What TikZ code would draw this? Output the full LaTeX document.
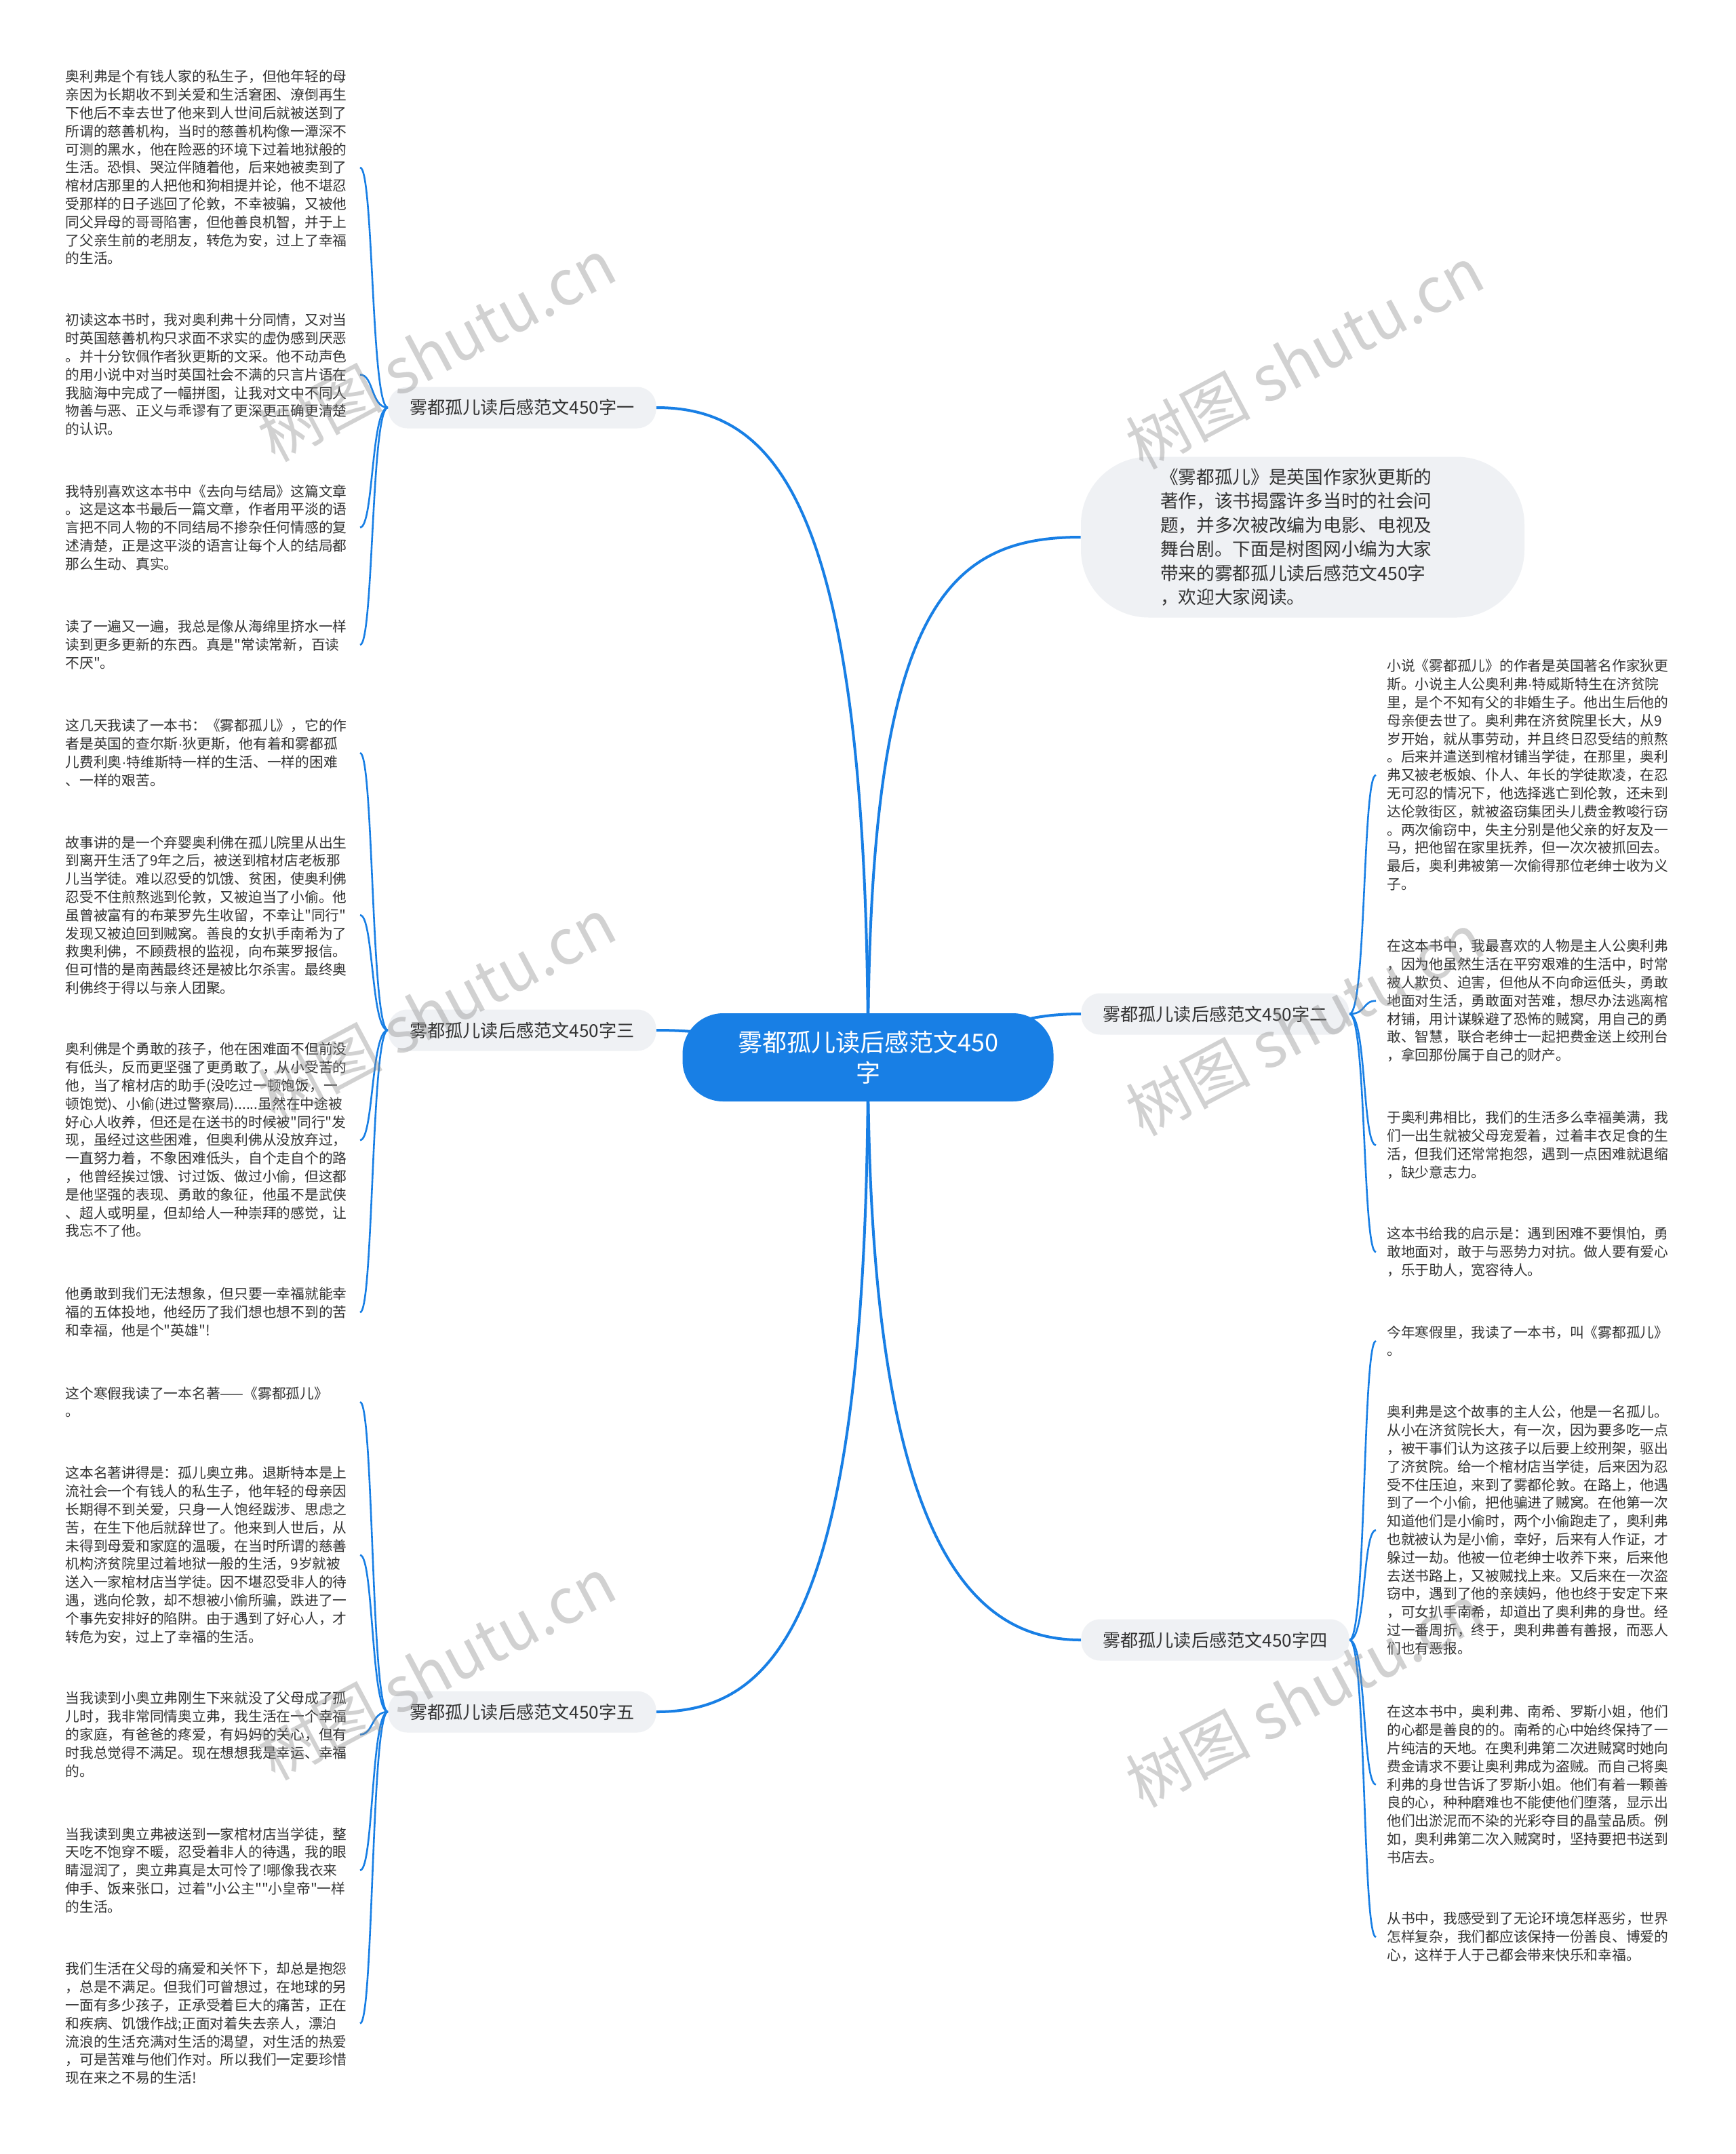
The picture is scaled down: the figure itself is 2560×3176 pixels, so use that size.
\documentclass[tikz,border=0pt]{standalone}
\usepackage{fontspec}
\newfontfamily\cjk{Noto Sans CJK SC}
\newfontfamily\latn{Liberation Sans}
\newcommand{\mdot}{{\latn ·}}
\definecolor{mblue}{RGB}{24,127,229}
\definecolor{bfill}{RGB}{239,241,244}
\definecolor{txt}{RGB}{51,51,51}
\pgfdeclarelayer{back}
\pgfdeclarelayer{bg}
\pgfsetlayers{back,bg,main}
\tikzset{
  leafL/.style={anchor=north east, font=\cjk\fontsize{10.375}{13.4}\selectfont, text width=209pt, align=left, inner xsep=8pt, inner ysep=0pt, text=txt},
  leafR/.style={anchor=north west, font=\cjk\fontsize{10.375}{13.4}\selectfont, text width=209pt, align=left, inner xsep=8pt, inner ysep=0pt, text=txt},
  branch/.style={fill=bfill, rounded corners=14pt, minimum width=197.5pt, minimum height=30.5pt, font=\cjk\fontsize{13.1}{15}\selectfont, text=txt, inner sep=0pt},
  rootnode/.style={fill=mblue, rounded corners=30pt, minimum width=273.5pt, minimum height=65pt, font=\cjk\fontsize{18}{22.5}\selectfont, text=white, align=center, inner sep=0pt},
  intronode/.style={fill=bfill, rounded corners=50pt, minimum width=327pt, minimum height=118.5pt, font=\cjk\fontsize{13.35}{17.75}\selectfont, text=txt, text width=210pt, align=left, inner xsep=58pt, inner ysep=0pt},
  mainline/.style={draw=mblue, line width=2pt},
  leafline/.style={draw=mblue, line width=1.3pt},
  wm/.style={font=\cjk\fontsize{46}{46}\selectfont, text=black!45, text opacity=0.4, rotate=28}
}
\begin{document}
\begin{tikzpicture}[x=0.5pt,y=-0.5pt]
\begin{pgfonlayer}{back}
\fill[white] (0,0) rectangle (2560,3176);
\end{pgfonlayer}
\useasboundingbox (0,0) rectangle (2560,3176);

% root and branches
\node[rootnode] (root) at (1280,1559) {雾都孤儿读后感范文450\\字};
\node[intronode] (intro) at (1921,792) {《雾都孤儿》是英国作家狄更斯的\\著作，该书揭露许多当时的社会问\\题，并多次被改编为电影、电视及\\舞台剧。下面是树图网小编为大家\\带来的雾都孤儿读后感范文450字\\，欢迎大家阅读。};
\node[branch] (b1) at (770,601) {雾都孤儿读后感范文450字一};
\node[branch] (b3) at (770,1519) {雾都孤儿读后感范文450字三};
\node[branch] (b5) at (770,2524) {雾都孤儿读后感范文450字五};
\node[branch] (b2) at (1792,1495) {雾都孤儿读后感范文450字二};
\node[branch] (b4) at (1792,2418) {雾都孤儿读后感范文450字四};

% left group 1
\node[leafL] (l1a) at (531,103) {奥利弗是个有钱人家的私生子，但他年轻的母\\亲因为长期收不到关爱和生活窘困、潦倒再生\\下他后不幸去世了他来到人世间后就被送到了\\所谓的慈善机构，当时的慈善机构像一潭深不\\可测的黑水，他在险恶的环境下过着地狱般的\\生活。恐惧、哭泣伴随着他，后来她被卖到了\\棺材店那里的人把他和狗相提并论，他不堪忍\\受那样的日子逃回了伦敦，不幸被骗，又被他\\同父异母的哥哥陷害，但他善良机智，并于上\\了父亲生前的老朋友，转危为安，过上了幸福\\的生活。};
\node[leafL] (l1b) at (531,462) {初读这本书时，我对奥利弗十分同情，又对当\\时英国慈善机构只求面不求实的虚伪感到厌恶\\。并十分钦佩作者狄更斯的文采。他不动声色\\的用小说中对当时英国社会不满的只言片语在\\我脑海中完成了一幅拼图，让我对文中不同人\\物善与恶、正义与乖谬有了更深更正确更清楚\\的认识。};
\node[leafL] (l1c) at (531,714) {我特别喜欢这本书中《去向与结局》这篇文章\\。这是这本书最后一篇文章，作者用平淡的语\\言把不同人物的不同结局不掺杂任何情感的复\\述清楚，正是这平淡的语言让每个人的结局都\\那么生动、真实。};
\node[leafL] (l1d) at (531,914) {读了一遍又一遍，我总是像从海绵里挤水一样\\读到更多更新的东西。真是"常读常新，百读\\不厌"。};

% left group 3
\node[leafL] (l3a) at (531,1060) {这几天我读了一本书：《雾都孤儿》，它的作\\者是英国的查尔斯\mdot 狄更斯，他有着和雾都孤\\儿费利奥\mdot 特维斯特一样的生活、一样的困难\\、一样的艰苦。};
\node[leafL] (l3b) at (531,1232) {故事讲的是一个弃婴奥利佛在孤儿院里从出生\\到离开生活了9年之后，被送到棺材店老板那\\儿当学徒。难以忍受的饥饿、贫困，使奥利佛\\忍受不住煎熬逃到伦敦，又被迫当了小偷。他\\虽曾被富有的布莱罗先生收留，不幸让"同行"\\发现又被迫回到贼窝。善良的女扒手南希为了\\救奥利佛，不顾费根的监视，向布莱罗报信。\\但可惜的是南茜最终还是被比尔杀害。最终奥\\利佛终于得以与亲人团聚。};
\node[leafL] (l3c) at (531,1537) {奥利佛是个勇敢的孩子，他在困难面不但前没\\有低头，反而更坚强了更勇敢了，从小受苦的\\他，当了棺材店的助手(没吃过一顿饱饭，一\\顿饱觉)、小偷(进过警察局)......虽然在中途被\\好心人收养，但还是在送书的时候被"同行"发\\现，虽经过这些困难，但奥利佛从没放弃过，\\一直努力着，不象困难低头，自个走自个的路\\，他曾经挨过饿、讨过饭、做过小偷，但这都\\是他坚强的表现、勇敢的象征，他虽不是武侠\\、超人或明星，但却给人一种崇拜的感觉，让\\我忘不了他。};
\node[leafL] (l3d) at (531,1898) {他勇敢到我们无法想象，但只要一幸福就能幸\\福的五体投地，他经历了我们想也想不到的苦\\和幸福，他是个"英雄"!};

% left group 5
\node[leafL] (l5a) at (531,2044) {这个寒假我读了一本名著——《雾都孤儿》\\。};
\node[leafL] (l5b) at (531,2162) {这本名著讲得是：孤儿奥立弗。退斯特本是上\\流社会一个有钱人的私生子，他年轻的母亲因\\长期得不到关爱，只身一人饱经跋涉、思虑之\\苦，在生下他后就辞世了。他来到人世后，从\\未得到母爱和家庭的温暖，在当时所谓的慈善\\机构济贫院里过着地狱一般的生活，9岁就被\\送入一家棺材店当学徒。因不堪忍受非人的待\\遇，逃向伦敦，却不想被小偷所骗，跌进了一\\个事先安排好的陷阱。由于遇到了好心人，才\\转危为安，过上了幸福的生活。};
\node[leafL] (l5c) at (531,2494) {当我读到小奥立弗刚生下来就没了父母成了孤\\儿时，我非常同情奥立弗，我生活在一个幸福\\的家庭，有爸爸的疼爱，有妈妈的关心，但有\\时我总觉得不满足。现在想想我是幸运、幸福\\的。};
\node[leafL] (l5d) at (531,2694) {当我读到奥立弗被送到一家棺材店当学徒，整\\天吃不饱穿不暖，忍受着非人的待遇，我的眼\\睛湿润了，奥立弗真是太可怜了!哪像我衣来\\伸手、饭来张口，过着"小公主""小皇帝"一样\\的生活。};
\node[leafL] (l5e) at (531,2893) {我们生活在父母的痛爱和关怀下，却总是抱怨\\，总是不满足。但我们可曾想过，在地球的另\\一面有多少孩子，正承受着巨大的痛苦，正在\\和疾病、饥饿作战;正面对着失去亲人，漂泊\\流浪的生活充满对生活的渴望，对生活的热爱\\，可是苦难与他们作对。所以我们一定要珍惜\\现在来之不易的生活!};

% right group 2
\node[leafR] (r2a) at (2029,972) {小说《雾都孤儿》的作者是英国著名作家狄更\\斯。小说主人公奥利弗\mdot 特威斯特生在济贫院\\里，是个不知有父的非婚生子。他出生后他的\\母亲便去世了。奥利弗在济贫院里长大，从9\\岁开始，就从事劳动，并且终日忍受结的煎熬\\。后来并遣送到棺材铺当学徒，在那里，奥利\\弗又被老板娘、仆人、年长的学徒欺凌，在忍\\无可忍的情况下，他选择逃亡到伦敦，还未到\\达伦敦街区，就被盗窃集团头儿费金教唆行窃\\。两次偷窃中，失主分别是他父亲的好友及一\\马，把他留在家里抚养，但一次次被抓回去。\\最后，奥利弗被第一次偷得那位老绅士收为义\\子。};
\node[leafR] (r2b) at (2029,1385) {在这本书中，我最喜欢的人物是主人公奥利弗\\，因为他虽然生活在平穷艰难的生活中，时常\\被人欺负、迫害，但他从不向命运低头，勇敢\\地面对生活，勇敢面对苦难，想尽办法逃离棺\\材铺，用计谋躲避了恐怖的贼窝，用自己的勇\\敢、智慧，联合老绅士一起把费金送上绞刑台\\，拿回那份属于自己的财产。};
\node[leafR] (r2c) at (2029,1638) {于奥利弗相比，我们的生活多么幸福美满，我\\们一出生就被父母宠爱着，过着丰衣足食的生\\活，但我们还常常抱怨，遇到一点困难就退缩\\，缺少意志力。};
\node[leafR] (r2d) at (2029,1809) {这本书给我的启示是：遇到困难不要惧怕，勇\\敢地面对，敢于与恶势力对抗。做人要有爱心\\，乐于助人，宽容待人。};

% right group 4
\node[leafR] (r4a) at (2029,1954) {今年寒假里，我读了一本书，叫《雾都孤儿》\\。};
\node[leafR] (r4b) at (2029,2072) {奥利弗是这个故事的主人公，他是一名孤儿。\\从小在济贫院长大，有一次，因为要多吃一点\\，被干事们认为这孩子以后要上绞刑架，驱出\\了济贫院。给一个棺材店当学徒，后来因为忍\\受不住压迫，来到了雾都伦敦。在路上，他遇\\到了一个小偷，把他骗进了贼窝。在他第一次\\知道他们是小偷时，两个小偷跑走了，奥利弗\\也就被认为是小偷，幸好，后来有人作证，才\\躲过一劫。他被一位老绅士收养下来，后来他\\去送书路上，又被贼找上来。又后来在一次盗\\窃中，遇到了他的亲姨妈，他也终于安定下来\\，可女扒手南希，却道出了奥利弗的身世。经\\过一番周折，终于，奥利弗善有善报，而恶人\\们也有恶报。};
\node[leafR] (r4c) at (2029,2514) {在这本书中，奥利弗、南希、罗斯小姐，他们\\的心都是善良的的。南希的心中始终保持了一\\片纯洁的天地。在奥利弗第二次进贼窝时她向\\费金请求不要让奥利弗成为盗贼。而自己将奥\\利弗的身世告诉了罗斯小姐。他们有着一颗善\\良的心，种种磨难也不能使他们堕落，显示出\\他们出淤泥而不染的光彩夺目的晶莹品质。例\\如，奥利弗第二次入贼窝时，坚持要把书送到\\书店去。};
\node[leafR] (r4d) at (2029,2819) {从书中，我感受到了无论环境怎样恶劣，世界\\怎样复杂，我们都应该保持一份善良、博爱的\\心，这样于人于己都会带来快乐和幸福。};

\begin{pgfonlayer}{bg}
% main connectors
\draw[mainline] (root.center) .. controls +(0,-810) and +(180,0) .. (b1.east);
\draw[mainline] (root.center) .. controls +(0,-660) and +(-200,0) .. (intro.west);
\draw[mainline] (root.center) .. controls +(170,0) and +(-150,0) .. (b2.west);
\draw[mainline] (root.center) .. controls +(-170,0) and +(150,0) .. (b3.east);
\draw[mainline] (root.center) .. controls +(0,740) and +(-150,0) .. (b4.west);
\draw[mainline] (root.center) .. controls +(0,820) and +(180,0) .. (b5.east);
% leaf connectors left
\foreach \l in {l1a,l1b,l1c,l1d}{\draw[leafline] (b1.west) .. controls +(-25,0) and +(20,0) .. (\l.east);}
\foreach \l in {l3a,l3b,l3c,l3d}{\draw[leafline] (b3.west) .. controls +(-25,0) and +(20,0) .. (\l.east);}
\foreach \l in {l5a,l5b,l5c,l5d,l5e}{\draw[leafline] (b5.west) .. controls +(-25,0) and +(20,0) .. (\l.east);}
% leaf connectors right
\foreach \l in {r2a,r2b,r2c,r2d}{\draw[leafline] (b2.east) .. controls +(25,0) and +(-20,0) .. (\l.west);}
\foreach \l in {r4a,r4b,r4c,r4d}{\draw[leafline] (b4.east) .. controls +(25,0) and +(-20,0) .. (\l.west);}
\end{pgfonlayer}

% watermarks
\node[wm] (w1) at (644,516) {树图 shutu.cn};
\node[wm] (w2) at (644,1488) {树图 shutu.cn};
\node[wm] (w3) at (644,2460) {树图 shutu.cn};
\node[wm] (w4) at (1924,527) {树图 shutu.cn};
\node[wm] (w5) at (1924,1510) {树图 shutu.cn};
\node[wm] (w6) at (1924,2500) {树图 shutu.cn};
\end{tikzpicture}
\end{document}
